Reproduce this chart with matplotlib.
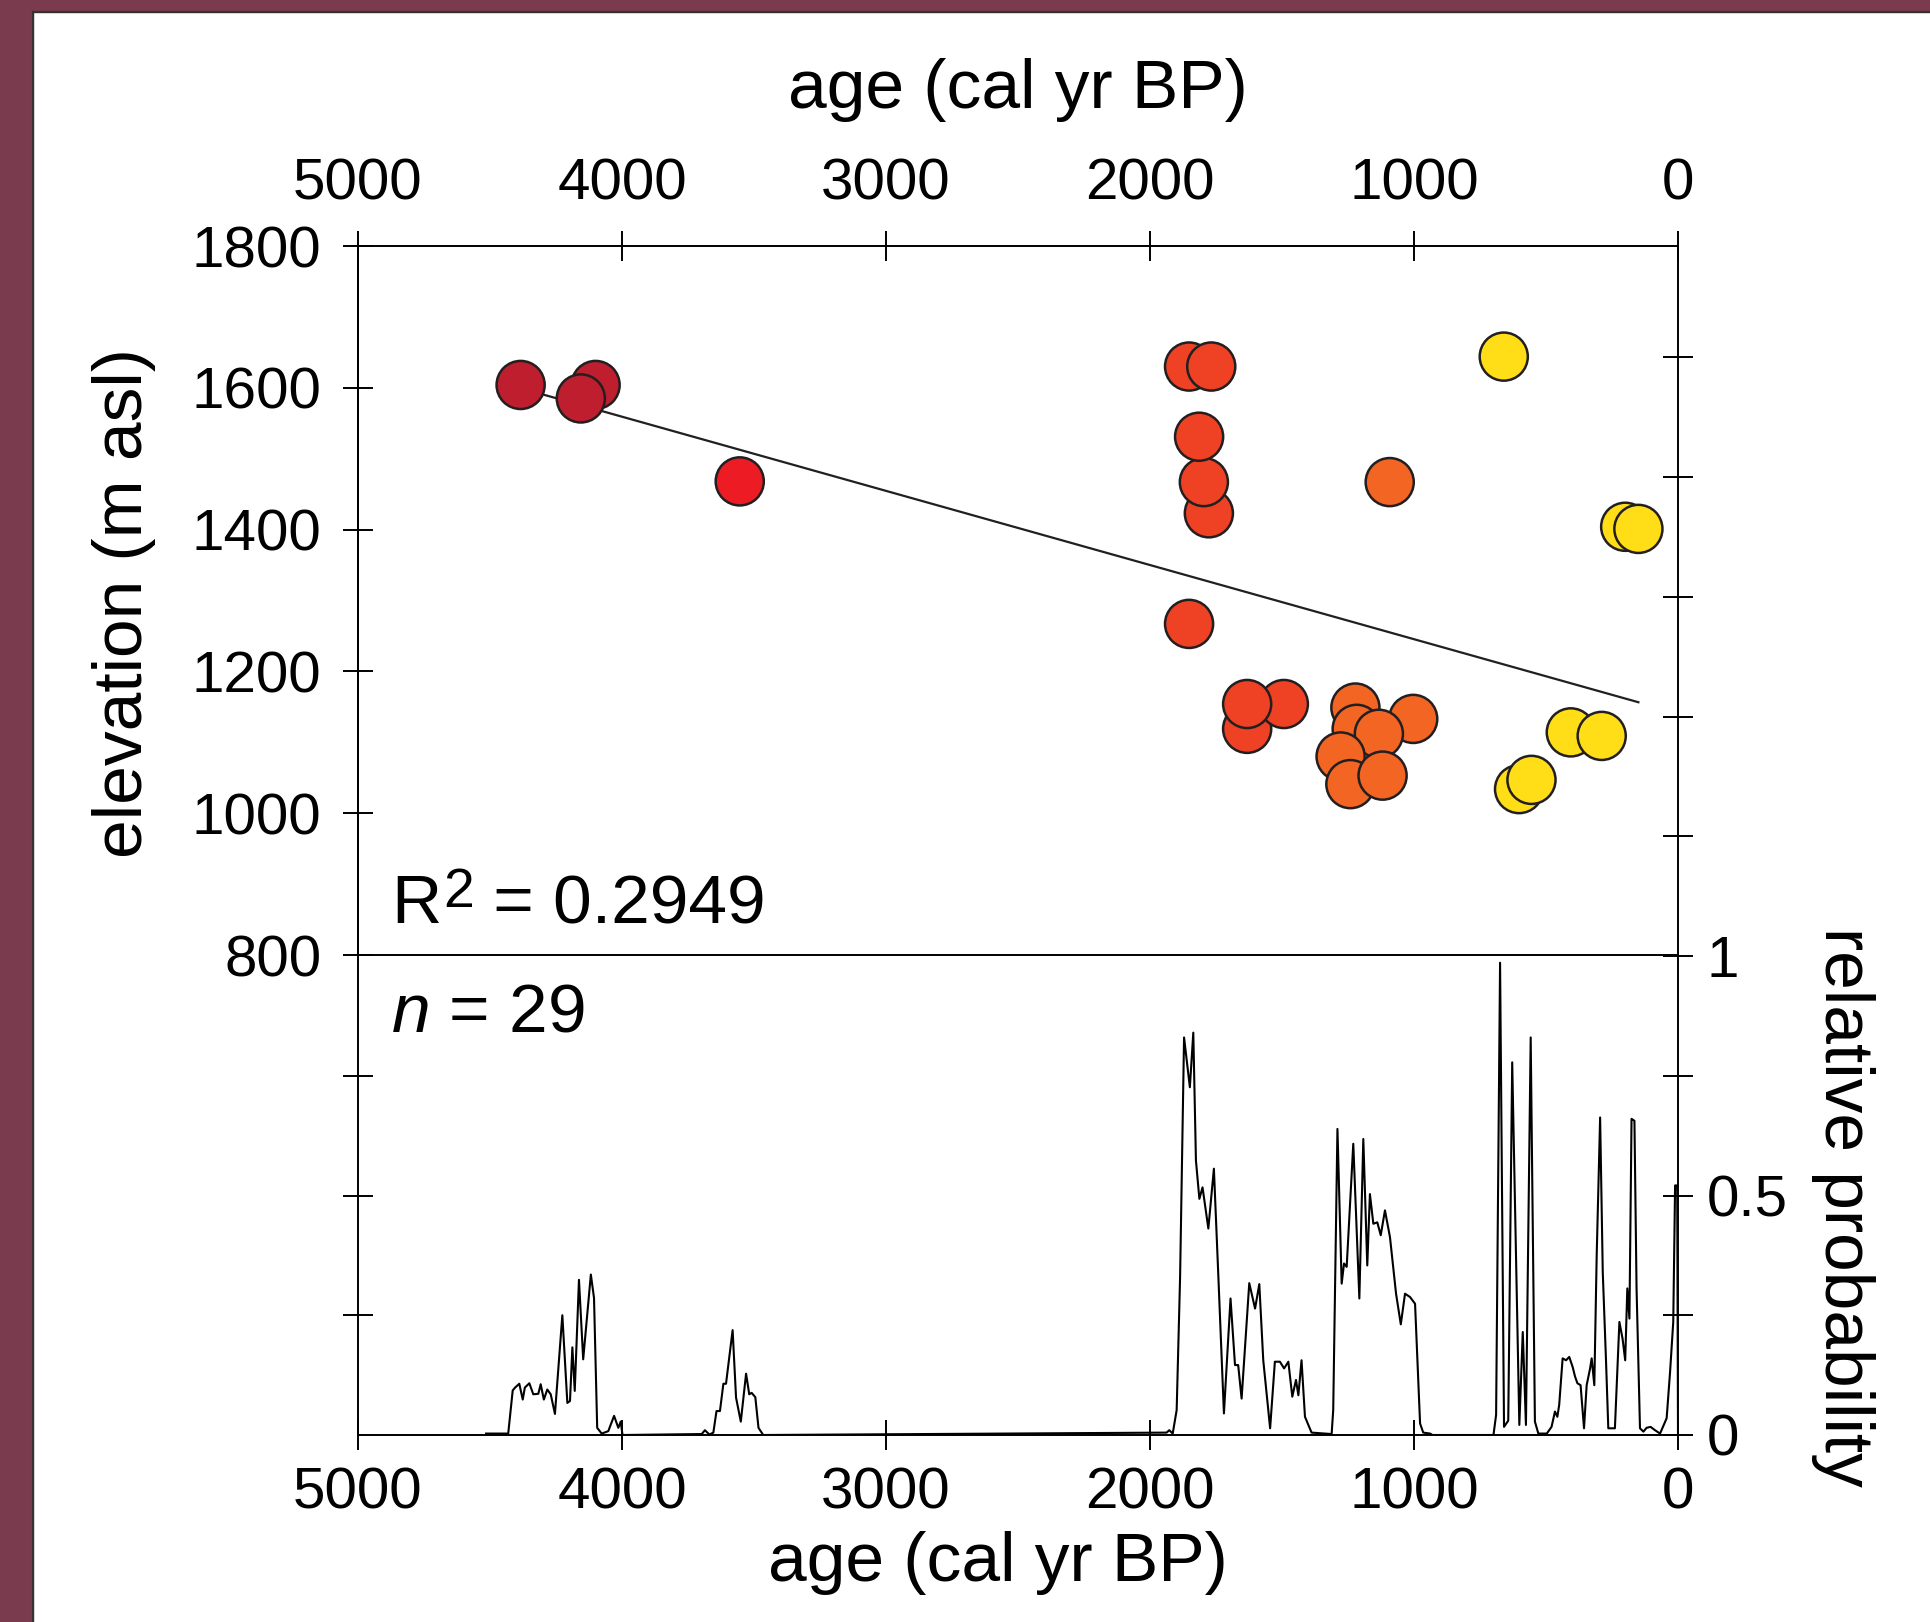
import numpy as np
import matplotlib
matplotlib.use('Agg')
import matplotlib.pyplot as plt
from matplotlib.patches import Rectangle
from matplotlib.lines import Line2D

plt.rcParams['font.family'] = ['Liberation Sans', 'DejaVu Sans']
plt.rcParams['mathtext.fontset'] = 'custom'
plt.rcParams['mathtext.rm'] = 'Liberation Sans'
plt.rcParams['mathtext.it'] = 'Liberation Sans:italic'

# sample ages (cal yr BP) and elevations (m asl), in drawing order
sample_age = [4100, 4384, 4156,
              3554,
              1852, 1768, 1777, 1796, 1814, 1852, 1632, 1493, 1632,
              1092, 1222, 1003, 1217, 1133, 1278, 1241, 1119,
              660, 200, 150, 406, 289, 602, 555]
sample_elev = [1604, 1604, 1585,
               1468,
               1630, 1630, 1423, 1467, 1531, 1267, 1119, 1154, 1154,
               1467, 1149, 1133, 1119, 1112, 1080, 1041, 1053,
               1644, 1404, 1401, 1114, 1109, 1034, 1047]
sample_group = ['a'] * 3 + ['b'] * 1 + ['c'] * 9 + ['d'] * 8 + ['e'] * 7
group_colors = {'a': '#be1e2d', 'b': '#ed1c24', 'c': '#ef4123',
                'd': '#f26522', 'e': '#ffde17'}

# summed probability curve
prob_age = [4515, 4431, 4420, 4414, 4405, 4389, 4376, 4368, 4351, 4336, 4317,
            4308, 4296, 4283, 4270, 4254, 4226, 4207, 4197, 4188, 4179, 4163,
            4147, 4118, 4106, 4094, 4077, 4052, 4030, 4014, 4005, 3998,
            3698, 3686, 3669, 3654, 3642, 3629, 3616, 3606, 3594, 3581, 3568,
            3550, 3530, 3518, 3509, 3495, 3483, 3465,
            1937, 1927, 1914, 1899, 1886, 1871, 1849, 1836, 1826, 1813, 1801,
            1779, 1758, 1741, 1720, 1695, 1678, 1666, 1653, 1624, 1602, 1586,
            1571, 1545, 1527, 1508, 1492, 1476, 1461, 1447, 1438, 1426, 1413,
            1388, 1312, 1306, 1290, 1274, 1265, 1255, 1230, 1207, 1192, 1177,
            1167, 1154, 1139, 1126, 1110, 1091, 1068, 1050, 1034, 1015, 996,
            977, 965, 939, 930,
            699, 689, 674, 659, 643, 628, 601, 588, 576, 558, 542, 529, 497,
            479, 466, 457, 450, 437, 424, 412, 399, 390, 381, 369, 356, 346,
            333, 327, 317, 308, 295, 285, 273, 264, 239, 222, 210, 200, 192,
            184, 176, 165, 157, 144, 131, 119, 104, 87, 68, 43, 30, 18, 11, 3, 0]
prob_val = [0.003, 0.003, 0.06, 0.093, 0.099, 0.107, 0.074, 0.099, 0.108, 0.085, 0.086,
            0.106, 0.074, 0.095, 0.085, 0.044, 0.250, 0.067, 0.071, 0.183, 0.092, 0.324,
            0.158, 0.335, 0.286, 0.015, 0.003, 0.008, 0.040, 0.015, 0.028, 0.0,
            0.002, 0.010, 0.001, 0.005, 0.050, 0.050, 0.107, 0.107, 0.161, 0.219, 0.078,
            0.028, 0.128, 0.085, 0.088, 0.079, 0.015, 0.0,
            0.005, 0.010, 0.003, 0.052, 0.330, 0.830, 0.726, 0.840, 0.573, 0.493, 0.517,
            0.431, 0.556, 0.330, 0.045, 0.285, 0.146, 0.146, 0.076, 0.317, 0.264, 0.315,
            0.156, 0.014, 0.153, 0.153, 0.139, 0.153, 0.080, 0.115, 0.083, 0.156, 0.038,
            0.005, 0.002, 0.052, 0.639, 0.316, 0.358, 0.351, 0.608, 0.285, 0.618, 0.354,
            0.503, 0.441, 0.444, 0.417, 0.469, 0.413, 0.295, 0.231, 0.295, 0.288, 0.274,
            0.024, 0.005, 0.003, 0.0,
            0.0, 0.042, 0.986, 0.017, 0.030, 0.778, 0.021, 0.215, 0.021, 0.830, 0.028, 0.003, 0.003,
            0.017, 0.049, 0.038, 0.063, 0.160, 0.156, 0.163, 0.142, 0.122, 0.108, 0.104, 0.014, 0.104,
            0.139, 0.160, 0.104, 0.375, 0.663, 0.340, 0.160, 0.014, 0.014, 0.236, 0.201, 0.156, 0.306,
            0.243, 0.660, 0.656, 0.306, 0.014, 0.007, 0.015, 0.017, 0.010, 0.003, 0.035, 0.132, 0.236,
            0.521, 0.521, 0.0]

age_ticks = [5000, 4000, 3000, 2000, 1000, 0]
elev_ticks = [800, 1000, 1200, 1400, 1600, 1800]
prob_ticks = [0, 0.25, 0.5, 0.75, 1, 1.25, 1.5, 1.75, 2, 2.25]
prob_labels = ['0', '', '0.5', '', '1', '', '', '', '', '']

W, H = 1930, 1622
fig = plt.figure(figsize=(W / 100, H / 100), dpi=100)

# maroon frame on left and top
fig.patches.append(Rectangle((0, 0), 33 / W, 1, transform=fig.transFigure,
                             color='#7a3b4e', zorder=0))
fig.patches.append(Rectangle((0, 1 - 12 / H), 1, 12 / H, transform=fig.transFigure,
                             color='#7a3b4e', zorder=0))
fig.lines.append(Line2D([33 / W, 33 / W], [0, 1 - 12 / H], transform=fig.transFigure,
                        color='#333333', lw=1.5))
fig.lines.append(Line2D([33 / W, 1], [1 - 12 / H, 1 - 12 / H], transform=fig.transFigure,
                        color='#333333', lw=1.5))

left, width = 358 / W, (1678 - 358) / W
bot_p, top_p = 1 - 1435 / H, 1 - 246 / H
bot_u = 1 - 955 / H
pmax = (1435 - 246) / 479.0

tick_kw = dict(direction='inout', length=21, width=1.4, labelsize=42)

# probability axes (full height)
ax_p = fig.add_axes([left, bot_p, width, top_p - bot_p])
ax_p.plot(prob_age, prob_val, color='black', lw=1.5)
ax_p.set_xlim(5000, 0)
ax_p.set_ylim(0, pmax)
ax_p.spines['top'].set_visible(False)
ax_p.spines['right'].set_visible(False)
for s in ax_p.spines.values():
    s.set_linewidth(1.4)
ax_p.set_xticks(age_ticks)
ax_p.set_xticklabels([str(t) for t in age_ticks])
ax_p.tick_params(axis='x', pad=12, **tick_kw)
ax_p.set_yticks([0.25, 0.5, 0.75])
ax_p.set_yticklabels([])
ax_p.tick_params(axis='y', **tick_kw)

ax_r = ax_p.twinx()
ax_r.set_ylim(0, pmax)
for k in ['top', 'left', 'bottom']:
    ax_r.spines[k].set_visible(False)
ax_r.spines['right'].set_linewidth(1.4)
ax_r.set_yticks(prob_ticks)
ax_r.set_yticklabels(prob_labels)
ax_r.tick_params(axis='y', pad=10, **tick_kw)

# elevation axes (upper panel)
ax_u = fig.add_axes([left, bot_u, width, top_p - bot_u])
ax_u.patch.set_alpha(0)
ax_u.set_xlim(5000, 0)
ax_u.set_ylim(800, 1800)
ax_u.spines['right'].set_visible(False)
for s in ax_u.spines.values():
    s.set_linewidth(1.4)
ax_u.xaxis.tick_top()
ax_u.set_xticks(age_ticks)
ax_u.set_xticklabels([str(t) for t in age_ticks])
ax_u.tick_params(axis='x', pad=14, **tick_kw)
ax_u.set_yticks(elev_ticks)
ax_u.set_yticklabels([str(t) for t in elev_ticks])
ax_u.tick_params(axis='y', pad=16, **tick_kw)

# regression line
age_arr = np.array(sample_age, dtype=float)
elev_arr = np.array(sample_elev, dtype=float)
slope, icpt = np.polyfit(age_arr, elev_arr, 1)
xs = np.array([age_arr.max(), age_arr.min()])
ax_u.plot(xs, slope * xs + icpt, color='#231f20', lw=1.6, zorder=2)

ax_u.scatter(sample_age, sample_elev, s=1200,
             c=[group_colors[g] for g in sample_group],
             edgecolors='#231f20', linewidths=1.8, zorder=3, clip_on=False)

# R^2 with a large raised superscript, and n
x0 = 391 / W
base_r = 1 - 923 / H
fig.text(x0, base_r, 'R', fontsize=50, va='baseline', ha='left')
fig.text(x0 + 52 / W, base_r + 16 / H, '2', fontsize=40, va='baseline', ha='left')
fig.text(x0 + 83 / W, base_r, ' = 0.2949', fontsize=50, va='baseline', ha='left')
fig.text(x0, 1 - 1031 / H, '$n$ = 29', fontsize=50, va='baseline', ha='left')

fig.text(1018 / W, 1 - 90 / H, 'age (cal yr BP)', fontsize=50, ha='center', va='center')
fig.text(998 / W, 1 - 1563 / H, 'age (cal yr BP)', fontsize=50, ha='center', va='center')
fig.text(124 / W, 1 - 603 / H, 'elevation (m asl)', fontsize=50, ha='center',
         va='center', rotation=90)
fig.text(1843 / W, 1 - 1207 / H, 'relative probability', fontsize=50, ha='center',
         va='center', rotation=270)

fig.savefig('out.png', dpi=100)
